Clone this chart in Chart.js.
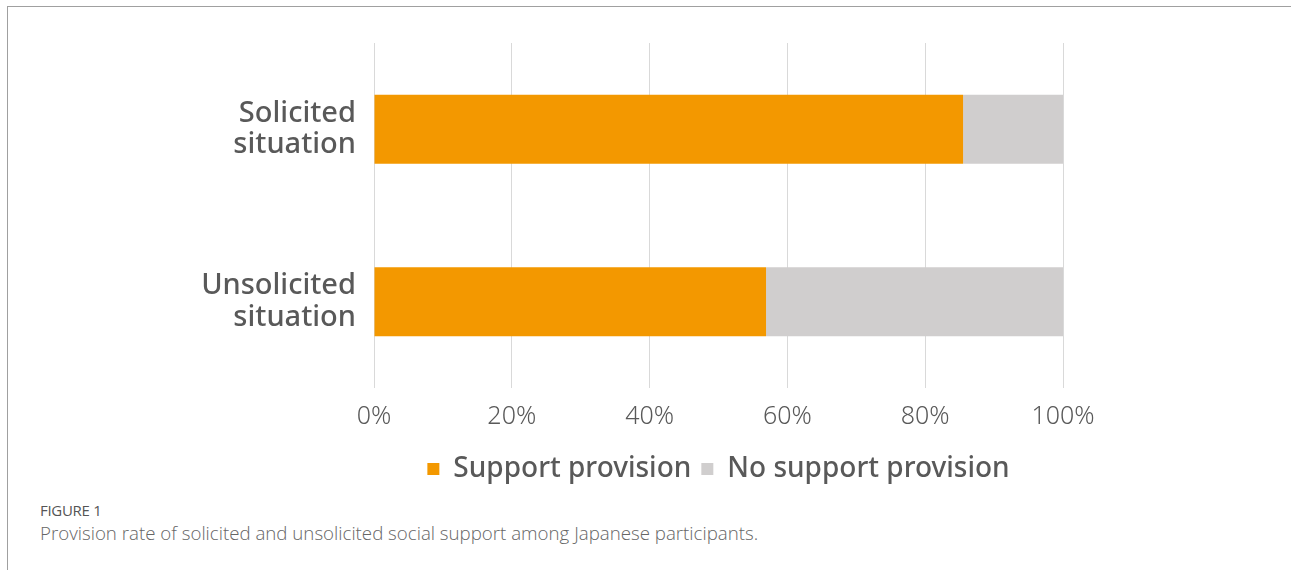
<!DOCTYPE html>
<html>
<head>
<meta charset="utf-8">
<script src="https://cdn.jsdelivr.net/npm/chart.js@4/dist/chart.umd.min.js"></script>
<style>
  body { margin: 0; background: #fff; width: 1291px; height: 570px; overflow: hidden; position: relative; }
  #frame { position: absolute; left: 7px; top: 6px; right: 0; bottom: 0; border-top: 1.5px solid #a0a0a0; border-left: 1.5px solid #a0a0a0; }
  #wrap { position: absolute; left: 0; top: 0; width: 1291px; height: 493px; }
  #figLabel { position: absolute; left: 40px; top: 500px; font: 500 15px "Open Sans", sans-serif; color: #555; letter-spacing: -0.3px; }
  #caption { position: absolute; left: 40px; top: 520px; font: 300 18.7px "Open Sans", sans-serif; color: #666; }
</style>
</head>
<body>
<div id="frame"></div>
<div id="wrap"><canvas id="chart"></canvas></div>
<div id="figLabel">FIGURE 1</div>
<div id="caption">Provision rate of solicited and unsolicited social support among Japanese participants.</div>
<script>
const categories = [["Solicited", "situation"], ["Unsolicited", "situation"]];
const seriesNames = ["Support provision", "No support provision"];
const supportValues = [85.5, 56.9];
const noSupportValues = [14.5, 43.1];
const xTicks = [0, 20, 40, 60, 80, 100];

const textColor = "#595959";
const fontFamily = "'Noto Sans', sans-serif";

const ctx = document.getElementById("chart").getContext("2d");
new Chart(ctx, {
  type: "bar",
  data: {
    labels: categories,
    datasets: [
      { label: seriesNames[0], data: supportValues, backgroundColor: "#F39800", borderWidth: 0 },
      { label: seriesNames[1], data: noSupportValues, backgroundColor: "#D0CECE", borderWidth: 0 }
    ]
  },
  options: {
    indexAxis: "y",
    responsive: true,
    maintainAspectRatio: false,
    animation: false,
    categoryPercentage: 0.4,
    barPercentage: 1,
    layout: { padding: { top: 43, right: 228, left: 0, bottom: 0 } },
    scales: {
      x: {
        stacked: true,
        min: 0,
        max: 100,
        afterBuildTicks: (scale) => { scale.ticks = xTicks.map(v => ({ value: v })); },
        afterFit: (scale) => { scale.height = 57; },
        ticks: {
          callback: (v) => v + "%",
          color: textColor,
          padding: 14,
          font: { family: fontFamily, size: 25, weight: 300 }
        },
        grid: { color: "#d9d9d9", lineWidth: 1, drawTicks: false },
        border: { display: false }
      },
      y: {
        stacked: true,
        afterFit: (scale) => { scale.width = 374; },
        ticks: {
          color: textColor,
          padding: 10,
          font: { family: fontFamily, size: 29, weight: 500, lineHeight: 1.1 }
        },
        grid: { display: false },
        border: { display: false }
      }
    },
    plugins: {
      legend: {
        position: "bottom",
        fullSize: false,
        labels: {
          boxWidth: 12,
          boxHeight: 12,
          padding: 10,
          color: textColor,
          font: { family: fontFamily, size: 28, weight: 500 }
        }
      },
      tooltip: { enabled: false }
    }
  }
});
</script>
</body>
</html>
